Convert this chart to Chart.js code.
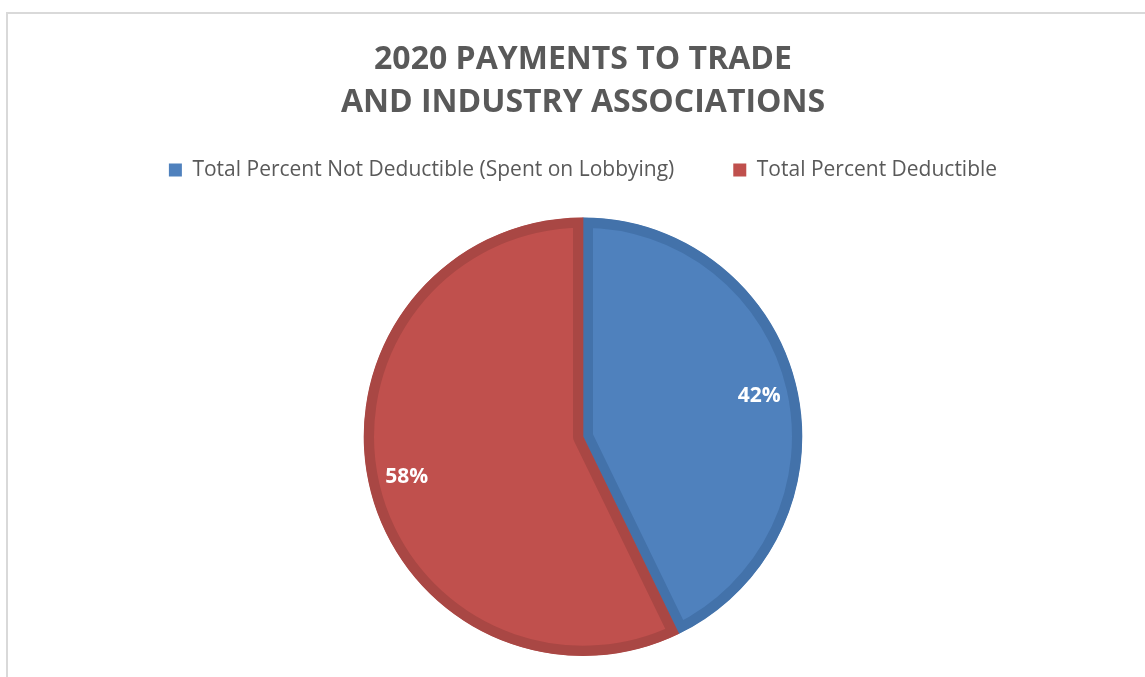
<!DOCTYPE html>
<html>
<head>
<meta charset="utf-8">
<script src="https://cdn.jsdelivr.net/npm/chart.js@4"></script>
<style>
  html, body { margin: 0; padding: 0; background: #fff; overflow: hidden; }
  #wrap { position: absolute; left: 0; top: 0; width: 1145px; height: 677px; }
</style>
</head>
<body>
<div id="wrap"><canvas id="pieChart"></canvas></div>
<script>
// ---- data ----
const categories = ['Total Percent Not Deductible (Spent on Lobbying)', 'Total Percent Deductible'];
const sliceValues = [42.8, 57.2];
// percent labels as printed on the slices
const pctLabelsText = ['42%', '58%'];
const sliceColors = ['#4F81BD', '#C0504D'];
const sliceBorders = ['#4372AA', '#A94744'];
const titleLines = ['2020 PAYMENTS TO TRADE', 'AND INDUSTRY ASSOCIATIONS'];

// light grey frame round the chart, like the office export
const framePlugin = {
  id: 'frame',
  beforeDraw(chart) {
    const c = chart.ctx;
    c.save();
    c.fillStyle = '#fff';
    c.fillRect(0, 0, chart.width, chart.height);
    c.strokeStyle = '#D9D9D9';
    c.lineWidth = 2;
    c.strokeRect(7, 13, chart.width + 20, chart.height + 20);
    c.restore();
  }
};

// percent labels inside the slices
const pctLabels = {
  id: 'pctLabels',
  afterDatasetsDraw(chart) {
    const c = chart.ctx;
    const meta = chart.getDatasetMeta(0);
    c.save();
    c.fillStyle = '#fff';
    c.font = 'bold 21px "Open Sans"';
    c.textAlign = 'center';
    c.textBaseline = 'middle';
    meta.data.forEach((arc, i) => {
      const p = arc.getProps(['x', 'y', 'startAngle', 'endAngle', 'outerRadius'], true);
      const mid = (p.startAngle + p.endAngle) / 2;
      const r = p.outerRadius * 0.825;
      c.fillText(pctLabelsText[i], p.x + Math.cos(mid) * r, p.y + Math.sin(mid) * r);
    });
    c.restore();
  }
};

const ctx = document.getElementById('pieChart').getContext('2d');
let chart = new Chart(ctx, {
  type: 'pie',
  data: {
    labels: categories,
    datasets: [{
      data: sliceValues,
      backgroundColor: sliceColors,
      borderColor: sliceBorders,
      borderWidth: 10,
      borderAlign: 'inner',
      hoverOffset: 0
    }]
  },
  options: {
    responsive: true,
    maintainAspectRatio: false,
    animation: false,
    events: [],
    layout: { padding: { left: 21, right: 0, top: 0, bottom: 21 } },
    plugins: {
      title: {
        display: true,
        text: titleLines,
        color: '#595959',
        font: { family: '"Open Sans"', size: 32, weight: 'bold', lineHeight: 1.35 },
        padding: { top: 38, bottom: -24 }
      },
      // empty spacer between legend and pie
      subtitle: {
        display: true,
        text: '',
        weight: 500,
        font: { size: 20, lineHeight: 1 },
        padding: { top: 7, bottom: 0 }
      },
      legend: {
        position: 'top',
        labels: {
          color: '#595959',
          font: { family: '"Open Sans"', size: 21 },
          boxWidth: 13,
          boxHeight: 13,
          padding: 59,
          generateLabels(ch) {
            return categories.map((t, i) => ({
              text: t, fillStyle: sliceColors[i], strokeStyle: sliceColors[i],
              lineWidth: 0, hidden: false, index: i, fontColor: '#595959'
            }));
          }
        }
      },
      tooltip: { enabled: false }
    }
  },
  plugins: [framePlugin, pctLabels]
});
</script>
</body>
</html>
